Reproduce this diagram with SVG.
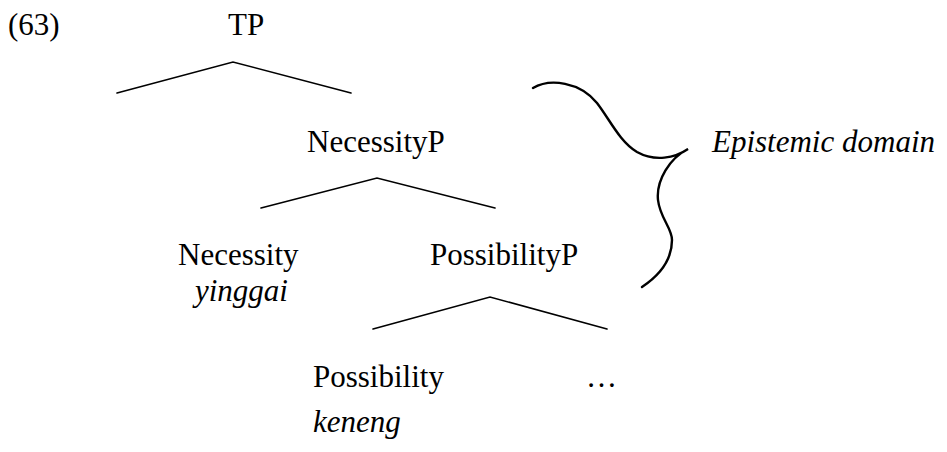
<svg xmlns="http://www.w3.org/2000/svg" width="947" height="452" viewBox="0 0 947 452">
  <style>
    text { font-family: 'Liberation Serif', 'Times New Roman', serif; font-size: 31px; fill: #000; }
    .it { font-style: italic; }
    .edge { stroke: #000; stroke-width: 1.6; fill: none; stroke-linecap: round; }
    .brace { stroke: #000; stroke-width: 2.4; fill: none; stroke-linecap: round; stroke-linejoin: miter; }
  </style>
  <rect width="947" height="452" fill="#fff"/>

  <!-- example number -->
  <text x="8" y="35">(63)</text>

  <g id="node-tp"><text x="228" y="35">TP</text></g>
  <g id="node-necessityp"><text x="307" y="152">NecessityP</text></g>
  <g id="node-necessity">
    <text x="178" y="265">Necessity</text>
    <text class="it" x="195" y="301">yinggai</text>
  </g>
  <g id="node-possibilityp"><text x="430" y="265">PossibilityP</text></g>
  <g id="node-possibility">
    <text x="313" y="387">Possibility</text>
    <text class="it" x="313" y="432">keneng</text>
  </g>
  <g id="node-rest"><text x="586" y="387">…</text></g>
  <g id="node-domain"><text class="it" x="712" y="152">Epistemic domain</text></g>

  <g id="connectors">
    <!-- branching lines under each phrase -->
    <polyline class="edge" points="117,93 233,62 351,93"/>
    <polyline class="edge" points="261,208 377,178 495,208"/>
    <polyline class="edge" points="373,329 490,297 607,329"/>
    <!-- curly brace grouping the upper projections -->
    <path class="brace" d="M533,88 C550,78 580,82 597,103 C610,120 620,142 637,152 C655,162 675,158 688,149 C670,158 656,180 658,200 C660,218 672,228 672,240 C672,260 660,275 642,287"/>
  </g>
</svg>
